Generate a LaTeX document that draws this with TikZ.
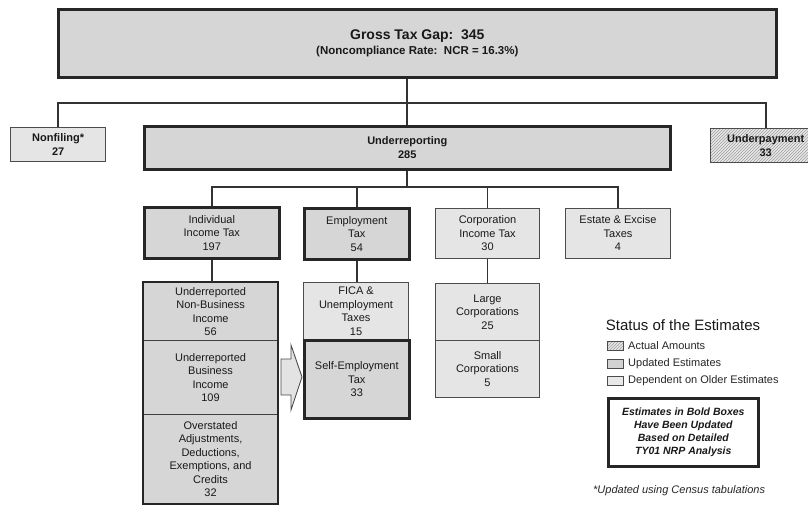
\documentclass[tikz,border=0pt]{standalone}
\usepackage{fontspec}
\setmainfont{Liberation Sans}
\usetikzlibrary{patterns}

\begin{document}
\begin{tikzpicture}[x=1pt,y=-1pt,
  cell/.style={rectangle, inner sep=0pt, align=center, anchor=north west,
    font=\fontsize{11}{13.5}\selectfont, text=black!90},
  boldbox/.style={cell, draw=black!85, line width=2.6pt, fill=gray!32},
  thinbox/.style={cell, draw=black!70, line width=1pt, fill=gray!20},
  colcell/.style={cell, draw=black!75, line width=1.1pt, fill=gray!32},
  frame/.style={draw=black!85, line width=2.6pt},
  link/.style={draw=black!80, line width=1.8pt},
  hatched/.style={preaction={fill=gray!18}, pattern=north east lines, pattern color=gray!75},
  legicon/.style={rectangle, inner sep=0pt, anchor=north west, minimum width=16pt,
    minimum height=9pt, draw=black!70, line width=0.8pt},
  legtext/.style={anchor=west, inner sep=0pt, font=\fontsize{11}{13}\selectfont, text=black!85}
]
\useasboundingbox (0,0) rectangle (808,504);
\clip (0,0) rectangle (808,504);
\fill[white] (0,0) rectangle (808,504);

% ---- level 0: total gap
\node[boldbox, minimum width=718pt, minimum height=68pt] (gap) at (57,8)
  {{\fontsize{14}{20}\selectfont\bfseries Gross Tax Gap:\ \ 345}\\[1pt]
   {\fontsize{11.5}{14}\selectfont\bfseries (Noncompliance Rate:\ \ NCR = 16.3\%)}};

% ---- level 1: components
\node[thinbox, line width=1.3pt, minimum width=95pt, minimum height=34pt, font=\fontsize{11}{13.5}\selectfont\bfseries] (nf) at (10,127)
  {Nonfiling*\\27};
\node[boldbox, minimum width=526pt, minimum height=43pt, font=\fontsize{11}{14}\selectfont\bfseries] (ur) at (143,125)
  {Underreporting\\285};
\node[thinbox, hatched, line width=1.3pt, minimum width=110pt, minimum height=34pt, font=\fontsize{11}{13.5}\selectfont\bfseries] (up) at (710,128)
  {Underpayment\\33};

\coordinate (busA) at (0,103);
\draw[link] (ur.north |- gap.south) -- (ur.north);
\draw[link] (nf.north) -- (nf.north |- busA) -| (up.north);

% ---- level 2: taxes under underreporting
\node[boldbox, minimum width=135pt, minimum height=51pt] (it) at (143,206)
  {Individual\\Income Tax\\197};
\node[boldbox, minimum width=105pt, minimum height=51pt] (et) at (303,207)
  {Employment\\Tax\\54};
\node[thinbox, minimum width=104pt, minimum height=50pt] (ct) at (435,208)
  {Corporation\\Income Tax\\30};
\node[thinbox, minimum width=105pt, minimum height=50pt] (ee) at (565,208)
  {Estate \& Excise\\Taxes\\4};

\coordinate (busB) at (0,187);
\draw[link] (ur.south) -- (ur.south |- busB);
\draw[link] (it.north) -- (it.north |- busB) -| (ee.north);
\draw[link] (et.north) -- (et.north |- busB);
\draw[link] (ct.north) -- (ct.north |- busB);

% ---- level 3: individual income tax
\node[colcell, minimum width=134pt, minimum height=58pt] (nb) at (143,282)
  {Underreported\\Non-Business\\Income\\56};
\node[colcell, minimum width=134pt, minimum height=74pt] (bi) at (143,340)
  {Underreported\\Business\\Income\\109};
\node[colcell, minimum width=134pt, minimum height=89pt] (ov) at (143,414)
  {Overstated\\Adjustments,\\Deductions,\\Exemptions, and\\Credits\\32};
\draw[frame] (nb.north west) rectangle (ov.south east);
\draw[link] (it.south) -- (it.south |- nb.north);

% ---- level 3: employment tax
\node[thinbox, minimum width=105pt, minimum height=57pt] (fi) at (303,282)
  {FICA \&\\Unemployment\\Taxes\\15};
\node[boldbox, minimum width=105pt, minimum height=78pt] (se) at (303,339)
  {Self-Employment\\Tax\\33};
\draw[link] (et.south) -- (et.south |- fi.north);

% ---- level 3: corporation income tax
\node[thinbox, minimum width=104pt, minimum height=57pt] (lc) at (435,283)
  {Large\\Corporations\\25};
\node[thinbox, minimum width=104pt, minimum height=57pt] (sc) at (435,340)
  {Small\\Corporations\\5};
\draw[link] (ct.south) -- (ct.south |- lc.north);

% ---- hollow arrow from business income to self-employment tax
\draw[draw=black!70, line width=0.9pt, fill=gray!22, line join=miter]
  (281,359) -- (291,359) -- (291,345) -- (302,377) -- (291,410) -- (291,395)
  -- (281,395) -- cycle;

% ---- legend
\node[anchor=center, inner sep=0pt, font=\fontsize{15}{18}\selectfont, text=black!90] (lgt) at (683,325)
  {Status of the Estimates};
\node[legicon, hatched] (iA) at (607,341) {};
\node[legtext] (tA) at (628,345.5) {Actual Amounts};
\node[legicon, fill=gray!35] (iU) at (607,359) {};
\node[legtext] (tU) at (628,363.5) {Updated Estimates};
\node[legicon, fill=gray!18] (iD) at (607,376) {};
\node[legtext] (tD) at (628,380.5) {Dependent on Older Estimates};

\node[cell, draw=black!85, line width=2.6pt, fill=white, minimum width=150pt, minimum height=68pt,
  font=\fontsize{10.5}{12.8}\selectfont\bfseries\itshape] (note) at (607,397)
  {Estimates in Bold Boxes\\Have Been Updated\\Based on Detailed\\TY01 NRP Analysis};

\node[anchor=west, inner sep=0pt, font=\fontsize{11}{13}\selectfont\itshape, text=black!85] (foot) at (593,491)
  {*Updated using Census tabulations};
\end{tikzpicture}
\end{document}
